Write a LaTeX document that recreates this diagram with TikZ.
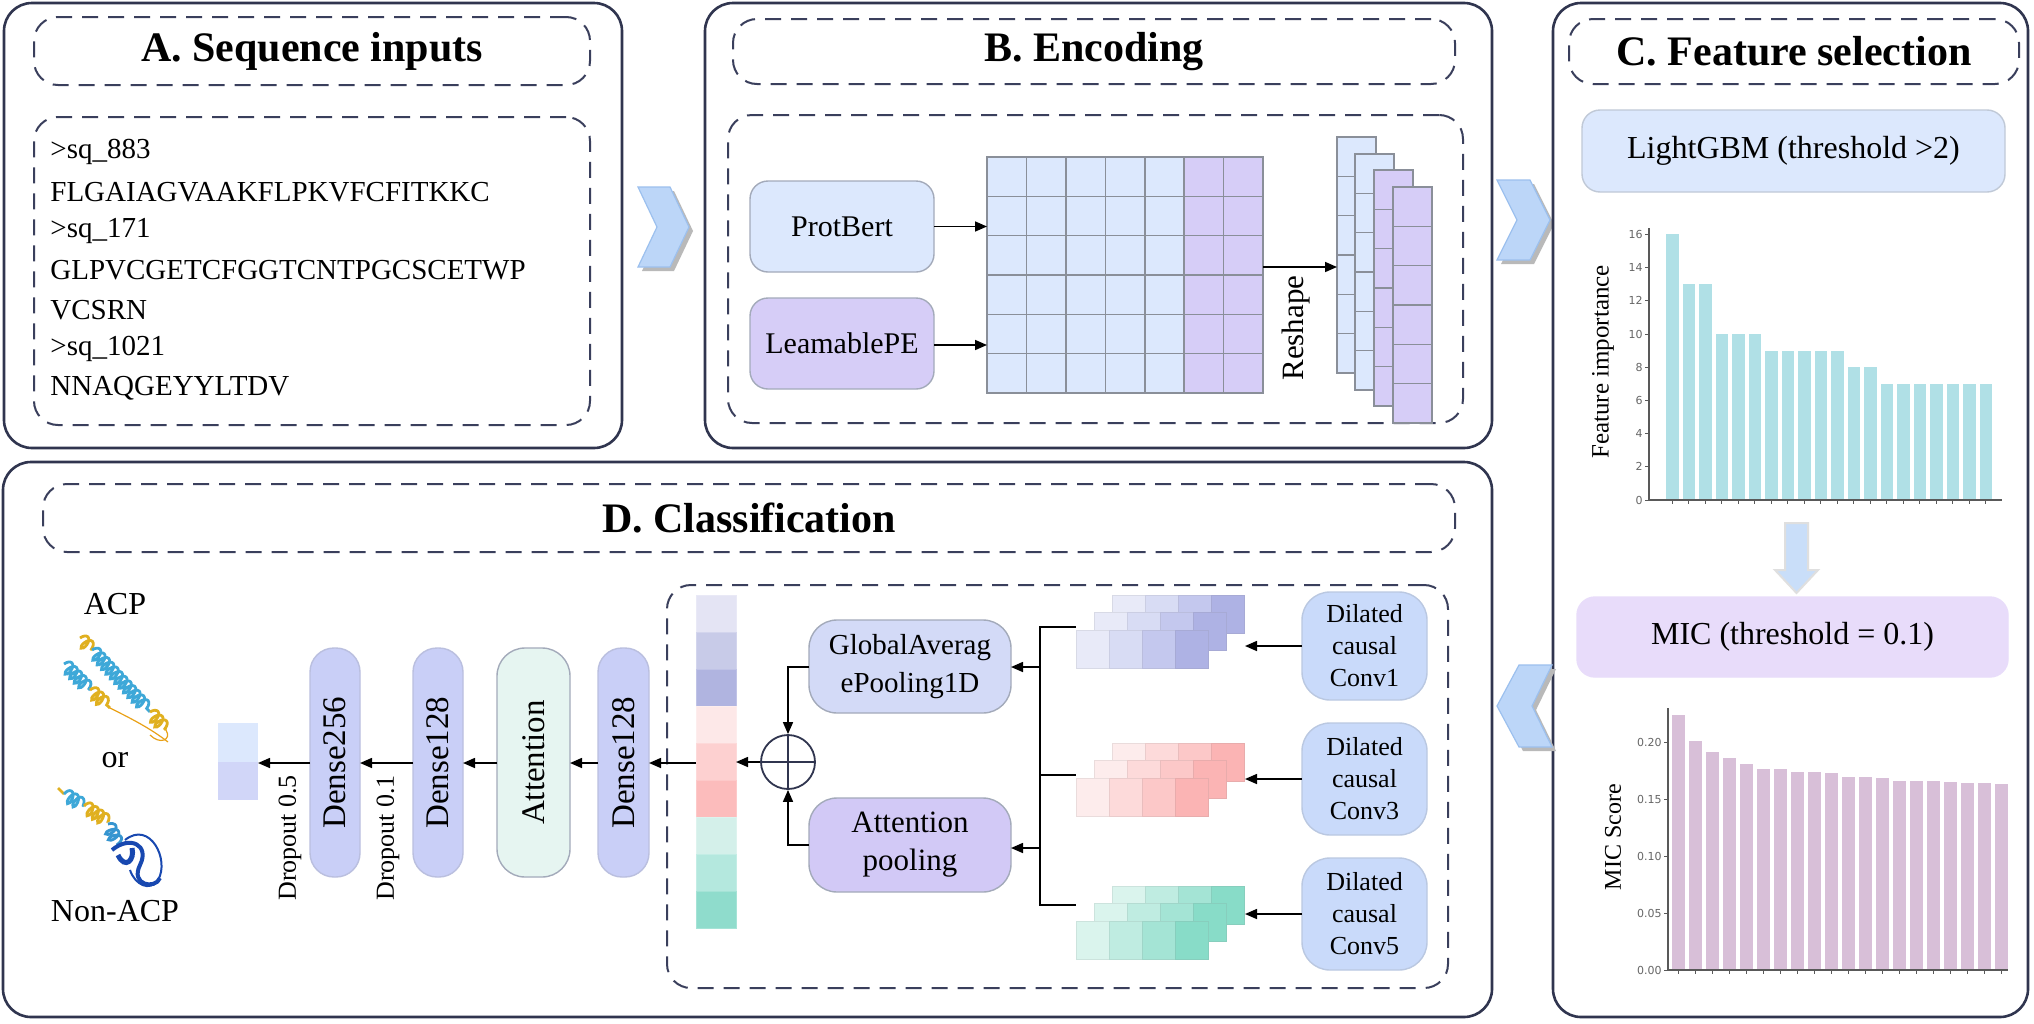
\documentclass[tikz,border=0pt]{standalone}
\usepackage{fontspec}
\setmainfont{Liberation Serif}
\newfontfamily\ticksf{DejaVu Sans}
\usetikzlibrary{arrows.meta,decorations.pathmorphing,shapes.geometric}
\definecolor{navy}{HTML}{30354F}
\definecolor{dashc}{HTML}{3A3F5C}
\definecolor{gline}{HTML}{8A8F99}
\definecolor{bgray}{HTML}{A3AABA}
\definecolor{lblue}{HTML}{DCE8FD}
\definecolor{lpurple}{HTML}{D6CDF7}
\definecolor{dilc}{HTML}{C9DAFA}
\definecolor{gapc}{HTML}{D3DAF7}
\definecolor{apc}{HTML}{D2C9F6}
\definecolor{densec}{HTML}{C9CFF7}
\definecolor{attc}{HTML}{E6F5F1}
\definecolor{micc}{HTML}{E8DCFA}
\definecolor{barA}{HTML}{B0E0E6}
\definecolor{barB}{HTML}{D8BFD8}
\definecolor{chevc}{HTML}{BCD6F8}
\definecolor{chevb}{HTML}{9CC0EE}
\definecolor{b1}{HTML}{E8EAF8}\definecolor{b2}{HTML}{D8DCF4}\definecolor{b3}{HTML}{C4C8EE}\definecolor{b4}{HTML}{AEB2E4}
\definecolor{r1}{HTML}{FDECEC}\definecolor{r2}{HTML}{FDDADA}\definecolor{r3}{HTML}{FCC8C8}\definecolor{r4}{HTML}{FBB4B4}
\definecolor{g1}{HTML}{DAF4ED}\definecolor{g2}{HTML}{BFECE1}\definecolor{g3}{HTML}{A4E4D5}\definecolor{g4}{HTML}{88DCC8}
\definecolor{pblue}{HTML}{3EA8D8}
\definecolor{pyel}{HTML}{E0B020}
\definecolor{pdark}{HTML}{1848B0}
\newcommand\mkbox[7]{\node[#6, minimum width={(#4-#2)*0.5pt}, minimum height={(#5-#3)*0.5pt}] (#1) at ({(#2+#4)/2},{(#3+#5)/2}) {#7};}
\begin{document}
\begin{tikzpicture}[x=0.5pt,y=-0.5pt,
  panel/.style={draw=navy, line width=1.3pt, rounded corners=14pt, inner sep=0pt, outer sep=0pt},
  dbox/.style={draw=dashc, line width=1pt, dash pattern=on 8pt off 5pt, rounded corners=12pt, inner sep=0pt, outer sep=0pt},
  box/.style={draw=bgray, line width=0.7pt, rounded corners=9pt, align=center, inner sep=0pt, outer sep=0pt},
  pill/.style={box, rounded corners=12pt, fill=densec, draw=densec!80!gray},
  dil/.style={box, fill=dilc, draw=dilc!80!gray, rounded corners=14pt, font=\fontsize{13}{16}\selectfont},
  arr/.style={-{Triangle[length=6pt,width=5pt]}, line width=0.8pt},
  title/.style={font=\fontsize{21}{25}\selectfont\bfseries},
  seq/.style={font=\fontsize{14.5}{17}\selectfont, anchor=west, inner sep=0pt},
  tick/.style={font=\ticksf\fontsize{5.5}{6}\selectfont, text=gray!80!black, anchor=east, inner sep=1pt}]
\useasboundingbox (0,0) rectangle (2034,1023);
\fill[white] (0,0) rectangle (2034,1023);

% ---------------- Panel A
\mkbox{pA}{4}{3}{622}{448}{panel}{}
\mkbox{tA}{34}{17}{590}{85}{dbox}{}
\node[title] at (tA) {A. Sequence inputs};
\mkbox{iA}{34}{117}{590}{425}{dbox}{}
\node[seq] (s1) at (50,152) {>sq\_883};
\node[seq] (s2) at (50,192) {FLGAIAGVAAKFLPKVFCFITKKC};
\node[seq] (s3) at (50,231) {>sq\_171};
\node[seq] (s4) at (50,270) {GLPVCGETCFGGTCNTPGCSCETWP};
\node[seq] (s5) at (50,310) {VCSRN};
\node[seq] (s6) at (50,349) {>sq\_1021};
\node[seq] (s7) at (50,388) {NNAQGEYYLTDV};

% chevron A->B
\fill[gray!55] (642,191) -- (674,191) -- (693,231) -- (674,271) -- (642,271) -- (661,231) -- cycle;
\filldraw[fill=chevc, draw=chevb, line width=0.6pt] (638,187) -- (670,187) -- (689,227) -- (670,267) -- (638,267) -- (657,227) -- cycle;

% ---------------- Panel B
\mkbox{pB}{705}{3}{1492}{448}{panel}{}
\mkbox{tB}{733}{19}{1455}{84}{dbox}{}
\node[title] at (tB) {B. Encoding};
\mkbox{iB}{728}{115}{1463}{423}{dbox}{}
\mkbox{pb}{750}{181}{934}{272}{box, fill=lblue}{\fontsize{15}{18}\selectfont ProtBert}
\mkbox{pe}{750}{298}{934}{389}{box, fill=lpurple}{\fontsize{15}{18}\selectfont LeamablePE}
\mkbox{grid}{987}{157}{1263}{393}{inner sep=0pt, outer sep=0pt}{}
\foreach \i in {0,...,6}{\foreach \j in {0,...,5}{
  \pgfmathsetmacro\cx{987+\i*39.43}\pgfmathsetmacro\cy{157+\j*39.33}
  \ifnum\i>4 \def\cc{lpurple}\else\def\cc{lblue}\fi
  \draw[draw=gline, fill=\cc, line width=0.8pt] (\cx,\cy) rectangle ++(39.43,39.33);}}
\draw[arr] (pb.east) -- (pb.east -| grid.west);
\draw[arr] (pe.east |- 0,345) -- (grid.west |- 0,345);
\foreach \k/\lx/\ty/\cc in {1/1337/137/lblue, 2/1355/154/lblue, 3/1374/170/lpurple, 4/1393/187/lpurple}{
  \foreach \j in {0,...,5}{
    \draw[draw=gline, fill=\cc, line width=0.8pt] (\lx,\ty+\j*39.33) rectangle ++(39,39.33);}
  \coordinate (st\k) at (\lx,\ty);}
\coordinate (rsA) at (1263,267);
\coordinate (rsB) at (1337,267);
\draw[arr] (rsA) -- (rsB);
\node[rotate=90, font=\fontsize{15.5}{18}\selectfont] (rsh) at (1296,328) {Reshape};

% chevron B->C
\fill[gray!55] (1501,184) -- (1534,184) -- (1554,224) -- (1534,264) -- (1501,264) -- (1521,224) -- cycle;
\filldraw[fill=chevc, draw=chevb, line width=0.6pt] (1497,180) -- (1530,180) -- (1550,220) -- (1530,260) -- (1497,260) -- (1517,220) -- cycle;

% ---------------- Panel C
\mkbox{pC}{1553}{3}{2028}{1017}{panel}{}
\mkbox{tC}{1569}{19}{2019}{84}{dbox}{}
\node[title] at (tC) {C. Feature selection};
\mkbox{lgb}{1582}{110}{2005}{192}{box, fill=lblue, draw=lblue!70!gray}{\fontsize{16}{19}\selectfont LightGBM (threshold >2)}
% chart 1
\foreach \v [count=\n from 0] in {16,13,13,10,10,10,9,9,9,9,9,8,8,7,7,7,7,7,7,7}{
  \fill[barA] (1666+\n*16.5,500) rectangle ++(12.5,-\v*16.6);
  \draw[gray!70!black, line width=0.5pt] (1672.2+\n*16.5,500) -- ++(0,4);}
\draw[gray!70!black, line width=0.9pt] (1649,228) -- (1649,500) -- (2002,500);
\foreach \t in {0,2,...,16}{
  \draw[gray!70!black, line width=0.5pt] (1649,500-\t*16.6) -- ++(-4,0);
  \node[tick] at (1645,500-\t*16.6) {\t};}
\node[rotate=90, font=\fontsize{12.5}{15}\selectfont] (fi) at (1603,362) {Feature importance};
% down arrow
\filldraw[fill=chevc!80!white, draw=gray!25, line width=1pt] (1785,523) -- (1808,523) -- (1808,570) -- (1818,570) -- (1796.5,593) -- (1775,570) -- (1785,570) -- cycle;
\mkbox{mic}{1577}{597}{2008}{677}{box, fill=micc, draw=micc}{\fontsize{16}{19}\selectfont MIC (threshold = 0.1)}
% chart 2
\foreach \v [count=\n from 0] in {.224,.201,.191,.186,.181,.176,.176,.174,.174,.173,.169,.169,.168,.166,.166,.166,.165,.164,.164,.163}{
  \fill[barB] (1672+\n*17,970) rectangle ++(13,-\v*1140);
  \draw[gray!70!black, line width=0.5pt] (1678.5+\n*17,970) -- ++(0,4);}
\draw[gray!70!black, line width=0.9pt] (1668,708) -- (1668,970) -- (2008,970);
\foreach \t/\l in {0/0.00,0.05/0.05,0.1/0.10,0.15/0.15,0.2/0.20}{
  \draw[gray!70!black, line width=0.5pt] (1668,970-\t*1140) -- ++(-4,0);
  \node[tick] at (1664,970-\t*1140) {\l};}
\node[rotate=90, font=\fontsize{12}{15}\selectfont] (ms) at (1613,837) {MIC Score};

% chevron C->D (left)
\fill[gray!55] (1556,669) -- (1523,669) -- (1501,710) -- (1523,751) -- (1556,751) -- (1536,710) -- cycle;
\filldraw[fill=chevc, draw=chevb, line width=0.6pt] (1552,665) -- (1519,665) -- (1497,706) -- (1519,747) -- (1552,747) -- (1532,706) -- cycle;

% ---------------- Panel D
\mkbox{pD}{3}{462}{1492}{1017}{panel}{}
\mkbox{tD}{43}{484}{1455}{552}{dbox}{}
\node[title] at (tD) {D. Classification};
\mkbox{iD}{667}{585}{1448}{988}{dbox}{}
% dilated convs
\mkbox{dc1}{1302}{592}{1427}{700}{dil}{Dilated\\causal\\Conv1}
\mkbox{dc3}{1302}{723}{1427}{835}{dil}{Dilated\\causal\\Conv3}
\mkbox{dc5}{1302}{858}{1427}{970}{dil}{Dilated\\causal\\Conv5}
% feature map stacks
\foreach \top/\pal/\s in {595/b/1,743/r/2,886/g/3}{
  \foreach \k in {0,1,2}{
    \foreach \c in {1,...,4}{
      \filldraw[fill=\pal\c, draw=\pal\c!85!gray, line width=0.5pt] (1112-\k*18+\c*33-33,\top+\k*17.5) rectangle ++(33,38);}}
  \coordinate (fm\s) at (1076,\top+35);}
\coordinate (fe1) at (1245,646);
\coordinate (fe2) at (1245,779);
\coordinate (fe3) at (1245,914);
\draw[arr] (dc1.west |- fe1) -- (fe1);
\draw[arr] (dc3.west |- fe2) -- (fe2);
\draw[arr] (dc5.west |- fe3) -- (fe3);
% pooling
\mkbox{gap}{809}{620}{1011}{713}{box, fill=gapc, rounded corners=14pt, font=\fontsize{14.5}{19}\selectfont}{GlobalAverag\\ePooling1D}
\mkbox{ap}{809}{798}{1011}{892}{box, fill=apc, rounded corners=14pt, font=\fontsize{15.5}{19}\selectfont}{Attention\\pooling}
\coordinate (bus1) at (1040,627);
\coordinate (bus2) at (1040,775);
\coordinate (bus3) at (1040,905);
\draw[line width=0.8pt] (fm1 |- bus1) -- (bus1) -- (bus3) -- (fm3 |- bus3);
\draw[line width=0.8pt] (bus2) -- (fm2 |- bus2);
\draw[arr] (1040,667) -- (gap.east |- 0,667);
\draw[arr] (1040,848) -- (ap.east |- 0,848);
\node[circle, draw=navy, line width=0.9pt, minimum size=27pt, inner sep=0pt] (plus) at (788,762) {};
\draw[navy, line width=0.9pt] (plus.north) -- (plus.south) (plus.west) -- (plus.east);
\draw[arr] (gap.west |- 0,667) -| (plus.north);
\draw[arr] (ap.west |- 0,845) -| (plus.south);
% concatenated column
\mkbox{col}{696}{595}{736}{928}{inner sep=0pt, outer sep=0pt}{}
\foreach \cc [count=\n from 0] in {E4E4F4,C8CBE8,B0B4E0,FDE8E8,FDD0D0,FCBCBC,D4F0EA,B4E8DE,8FDCCC}{
  \definecolor{tmpc}{HTML}{\cc}
  \filldraw[fill=tmpc, draw=tmpc!80!white, line width=0.5pt] (696,595+\n*37) rectangle ++(40,37);}
\draw[arr] (plus.west) -- (col.east |- plus.west);
% dense chain
\mkbox{d128b}{598}{648}{649}{877}{pill}{}
\node[rotate=90, font=\fontsize{16.5}{18}\selectfont] at (d128b) {Dense128};
\mkbox{att}{497}{648}{570}{877}{box, fill=attc, rounded corners=14pt}{}
\node[rotate=90, font=\fontsize{16.5}{18}\selectfont] at (att) {Attention};
\mkbox{d128a}{413}{648}{463}{877}{pill}{}
\node[rotate=90, font=\fontsize{16.5}{18}\selectfont] at (d128a) {Dense128};
\mkbox{d256}{310}{648}{360}{877}{pill}{}
\node[rotate=90, font=\fontsize{16.5}{18}\selectfont] at (d256) {Dense256};
\mkbox{out}{218}{723}{258}{800}{inner sep=0pt, outer sep=0pt}{}
\fill[lblue] (218,723) rectangle (258,762);
\fill[densec!85!white] (218,762) rectangle (258,800);
\draw[arr] (col.west |- 0,763) -- (d128b.east |- 0,763);
\draw[arr] (d128b.west |- 0,763) -- (att.east |- 0,763);
\draw[arr] (att.west |- 0,763) -- (d128a.east |- 0,763);
\draw[arr] (d128a.west |- 0,763) -- (d256.east |- 0,763);
\draw[arr] (d256.west |- 0,763) -- (out.east |- 0,763);
\node[rotate=90, font=\fontsize{13}{15}\selectfont, anchor=east] (do5) at (290,768) {Dropout 0.5};
\node[rotate=90, font=\fontsize{13}{15}\selectfont, anchor=east] (do1) at (388,768) {Dropout 0.1};
% labels and proteins
\node[font=\fontsize{16}{19}\selectfont] (acp) at (115,604) {ACP};
\node[font=\fontsize{16}{19}\selectfont] (or) at (115,760) {or};
\node[font=\fontsize{16}{19}\selectfont] (nacp) at (115,911) {Non-ACP};
\tikzset{helix/.style={decorate, decoration={coil, aspect=0.5, segment length=3.2pt, amplitude=3.2pt}, line width=1.4pt}}
\draw[helix, pyel] (80,638) -- (92,650);
\draw[helix, pblue] (92,650) -- (150,712);
\draw[helix, pyel] (150,712) -- (166,730);
\draw[pyel!70!orange, line width=0.6pt] (166,730) .. controls (172,740) and (160,745) .. (150,735);
\draw[helix, pblue] (64,664) -- (90,690);
\draw[helix, pyel] (90,690) -- (110,708);
\draw[pyel!70!orange, line width=0.6pt] (110,708) .. controls (130,718) and (150,728) .. (168,742);
\draw[helix, pyel] (58,788) -- (64,794);
\draw[helix, pblue] (64,794) -- (84,806);
\draw[helix, pyel] (84,806) -- (108,822);
\draw[helix, pblue!80!pdark] (108,824) -- (118,845);
\draw[pdark, line width=2pt] (112,850) .. controls (130,835) and (150,845) .. (140,865) .. controls (130,885) and (155,890) .. (160,878);
\draw[pdark, line width=1pt] (125,840) .. controls (150,820) and (170,860) .. (158,880) .. controls (150,892) and (135,885) .. (130,870);
\draw[pdark, line width=2.5pt] (118,855) .. controls (125,870) and (135,860) .. (132,848);
\end{tikzpicture}
\end{document}
